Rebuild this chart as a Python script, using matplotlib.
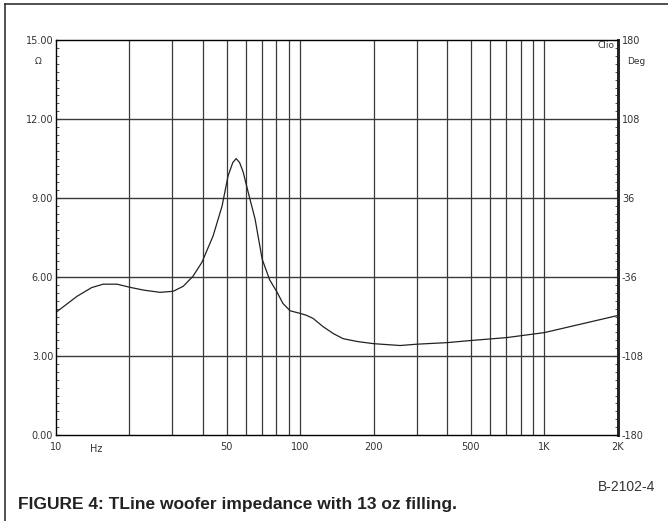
import matplotlib
matplotlib.use("Agg")
import matplotlib.pyplot as plt
from matplotlib.ticker import FixedLocator, MultipleLocator, NullFormatter

# impedance curve (Hz, ohm)
freq_hz = [10, 12.2, 14, 15.6, 17.8, 20.1, 23, 26.7, 30.2, 33.2, 36.4, 39.6,
           44, 47.9, 50.7, 53, 54.7, 56.5, 58.4, 61.2, 65.4, 69.9, 75, 80.5,
           85, 91, 100, 106, 113, 124, 137, 150, 172, 200, 257, 300, 400,
           500, 700, 1000, 1500, 2000]
impedance_ohm = [4.66, 5.27, 5.6, 5.73, 5.73, 5.61, 5.5, 5.42, 5.46, 5.65,
                 6.03, 6.56, 7.56, 8.7, 9.85, 10.35, 10.5, 10.35, 10.0, 9.24,
                 8.2, 6.68, 5.9, 5.42, 5.0, 4.72, 4.62, 4.55, 4.43, 4.12,
                 3.85, 3.66, 3.55, 3.47, 3.40, 3.45, 3.51, 3.59, 3.70, 3.89,
                 4.27, 4.54]

grid_freqs = [20, 30, 40, 50, 60, 70, 80, 90, 100, 200, 300, 400, 500,
              600, 700, 800, 900, 1000, 2000]
x_ticks = [10, 50, 100, 200, 500, 1000, 2000]
x_labels = ["10", "50", "100", "200", "500", "1K", "2K"]
left_ticks = [0, 3, 6, 9, 12, 15]
left_labels = ["0.00", "3.00", "6.00", "9.00", "12.00", "15.00"]
right_ticks = [-180, -108, -36, 36, 108, 180]
right_labels = ["-180", "-108", "-36", "36", "108", "180"]

fig = plt.figure(figsize=(6.68, 5.21), dpi=100)
ax = fig.add_axes([0.0838, 0.165, 0.841, 0.758])

ax.set_xscale("log")
ax.set_xlim(10, 2000)
ax.set_ylim(0, 15)

gc = "#3a3a3a"
for f in grid_freqs:
    ax.axvline(f, color=gc, lw=0.9, zorder=1)
for v in left_ticks[1:-1]:
    ax.axhline(v, color=gc, lw=1.0, zorder=1)

ax.plot(freq_hz, impedance_ohm, color="#222222", lw=0.9, zorder=3)

ax.xaxis.set_major_locator(FixedLocator(x_ticks))
ax.xaxis.set_minor_locator(FixedLocator([]))
ax.xaxis.set_minor_formatter(NullFormatter())
ax.set_xticks(x_ticks)
ax.set_xticklabels(x_labels)
ax.tick_params(axis="x", length=0, pad=5, labelsize=7, colors="#333333")

ax.set_yticks(left_ticks)
ax.set_yticklabels(left_labels)
ax.yaxis.set_minor_locator(MultipleLocator(0.3))
ax.tick_params(axis="y", which="major", direction="in", length=3, pad=2,
               labelsize=7, colors="#333333")
ax.tick_params(axis="y", which="minor", direction="in", length=2,
               color="#333333")

for s in ax.spines.values():
    s.set_color("#333333")
    s.set_linewidth(1.0)
ax.spines["right"].set_linewidth(2.0)

ax2 = ax.twinx()
ax2.set_ylim(-180, 180)
ax2.set_yticks(right_ticks)
ax2.set_yticklabels(right_labels)
ax2.yaxis.set_minor_locator(MultipleLocator(7.2))
ax2.tick_params(axis="y", which="major", direction="in", length=3, pad=3,
                labelsize=7, colors="#333333")
ax2.tick_params(axis="y", which="minor", direction="in", length=2,
                color="#333333")
ax2.spines["right"].set_linewidth(2.0)
ax2.spines["right"].set_color("#222222")

# small axis annotations
fig.text(38 / 668, 1 - 62 / 521, "Ω", fontsize=6.5, color="#333333",
         ha="center", va="center")
fig.text(636 / 668, 1 - 62 / 521, "Deg", fontsize=6.5, color="#333333",
         ha="center", va="center")
fig.text(614 / 668, 1 - 46 / 521, "Clio", fontsize=6.5, color="#333333",
         ha="right", va="center")
fig.text(90 / 668, 1 - 449 / 521, "Hz", fontsize=7, color="#333333",
         ha="left", va="center")

fig.text(18 / 668, 1 - 509 / 521,
         "FIGURE 4: TLine woofer impedance with 13 oz filling.",
         family=["Liberation Sans", "DejaVu Sans"], weight="bold",
         fontsize=12.5, color="#222222", ha="left", va="baseline")
fig.text(655 / 668, 1 - 491 / 521, "B-2102-4",
         family=["Liberation Sans", "DejaVu Sans"], fontsize=10,
         color="#333333", ha="right", va="baseline")

# page frame: left and top rules
fig.add_artist(plt.Line2D([5 / 668, 5 / 668], [0, 1 - 4 / 521],
                          transform=fig.transFigure, color="#333333", lw=1.2))
fig.add_artist(plt.Line2D([5 / 668, 1], [1 - 4 / 521, 1 - 4 / 521],
                          transform=fig.transFigure, color="#333333", lw=1.2))

fig.savefig("out.png", dpi=100)
